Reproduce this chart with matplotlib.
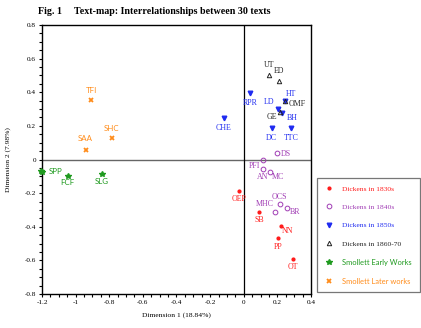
import numpy as np
import matplotlib
matplotlib.use("Agg")
import matplotlib.pyplot as plt
from matplotlib.ticker import MultipleLocator, FuncFormatter

d1830_names = ['OEP', 'SB', 'NN', 'PP', 'OT']
d1830_x = [-0.030, 0.090, 0.219, 0.203, 0.293]
d1830_y = [-0.188, -0.311, -0.396, -0.465, -0.590]

d1840_names = ['DS', 'PFI', 'AN', 'MC', 'OCS', 'MHC', 'BR']
d1840_x = [0.195, 0.112, 0.112, 0.157, 0.213, 0.183, 0.257]
d1840_y = [0.037, -0.005, -0.057, -0.076, -0.265, -0.312, -0.290]

d1850_names = ['RPR', 'CHE', 'LD', 'HT', 'BH', 'DC', 'TTC']
d1850_x = [0.038, -0.118, 0.201, 0.247, 0.225, 0.167, 0.281]
d1850_y = [0.394, 0.247, 0.299, 0.350, 0.275, 0.189, 0.189]

d1860_names = ['UT', 'ED', 'OMF', 'GE']
d1860_x = [0.149, 0.211, 0.247, 0.215]
d1860_y = [0.503, 0.469, 0.350, 0.285]

se_names = ['SPP', 'SRR', 'FCF', 'SLG']
se_x = [-1.198, -1.206, -1.047, -0.846]
se_y = [-0.076, -0.070, -0.098, -0.086]

sl_names = ['TFI', 'SHC', 'SAA']
sl_x = [-0.907, -0.784, -0.941]
sl_y = [0.352, 0.126, 0.057]

# label offsets in pixels (dx, dy) - placement only
offsets = {
    'OEP': (0, -8), 'SB': (0, -8), 'NN': (7, -5), 'PP': (0, -9), 'OT': (0, -8),
    'DS': (9, -1), 'PFI': (-8, -6), 'AN': (0, -8), 'MC': (8, -5),
    'OCS': (0, 7), 'MHC': (-10, 8), 'BR': (8, -4),
    'RPR': (0, -10), 'CHE': (0, -10), 'LD': (-8, 7), 'HT': (6, 7),
    'BH': (11, -5), 'DC': (0, -10), 'TTC': (0, -10),
    'UT': (0, 10), 'ED': (0, 10), 'OMF': (12, -3), 'GE': (-8, -5),
    'SPP': (13, 1), 'SRR': (8, -10), 'FCF': (0, -7), 'SLG': (0, -8),
    'TFI': (0, 10), 'SHC': (0, 10), 'SAA': (0, 11),
}

SERIF = 'Liberation Serif'
SANS = 'Lato'

groups = [
    (d1830_names, d1830_x, d1830_y, 'Dickens in 1830s', '#ff1a1a',
     dict(marker='o', markersize=2.0, markerfacecolor='#ff1a1a', markeredgecolor='#ff1a1a'), SERIF),
    (d1840_names, d1840_x, d1840_y, 'Dickens in 1840s', '#a03cb4',
     dict(marker='o', markersize=3.4, markerfacecolor='none', markeredgecolor='#a03cb4', markeredgewidth=0.7), SERIF),
    (d1850_names, d1850_x, d1850_y, 'Dickens in 1850s', '#1f2bf0',
     dict(marker='v', markersize=3.3, markerfacecolor='#1f2bf0', markeredgecolor='#1f2bf0'), SERIF),
    (d1860_names, d1860_x, d1860_y, 'Dickens in 1860-70', '#222222',
     dict(marker='^', markersize=3.2, markerfacecolor='none', markeredgecolor='#222222', markeredgewidth=0.7), SERIF),
    (se_names, se_x, se_y, 'Smollett Early Works', '#1f9a1f',
     dict(marker='*', markersize=4.0, markerfacecolor='#1f9a1f', markeredgecolor='#1f9a1f'), SANS),
    (sl_names, sl_x, sl_y, 'Smollett Later works', '#ff8c1a',
     dict(marker='x', markersize=2.8, markeredgecolor='#ff8c1a', markeredgewidth=1.3), SANS),
]

fig = plt.figure(figsize=(4.21, 3.28), dpi=100)
ax = fig.add_axes([42 / 421, 1 - 294 / 328, 269 / 421, 269 / 328])

ax.axhline(0, color='#666666', lw=1.0, zorder=1)
ax.axvline(0, color='black', lw=0.9, zorder=1)

handles = []
for names, xs, ys, lab, col, mk, fam in groups:
    h, = ax.plot(xs, ys, linestyle='none', label=lab, clip_on=False, zorder=3, **mk)
    handles.append(h)
    for n, x, y in zip(names, xs, ys):
        dx, dy = offsets[n]
        ax.annotate(n, (x, y), xytext=(dx, dy), textcoords='offset pixels',
                    ha='center', va='center', fontsize=5.7, color=col, family=fam)

ax.set_xlim(-1.2, 0.4)
ax.set_ylim(-0.8, 0.8)
ax.xaxis.set_major_locator(MultipleLocator(0.2))
ax.yaxis.set_major_locator(MultipleLocator(0.2))
ax.xaxis.set_minor_locator(MultipleLocator(0.05))
ax.yaxis.set_minor_locator(MultipleLocator(0.05))

def fmt(v, pos):
    v = round(v, 2)
    if abs(v) < 1e-9:
        return '0'
    return ('%g' % v)

ax.xaxis.set_major_formatter(FuncFormatter(fmt))
ax.yaxis.set_major_formatter(FuncFormatter(fmt))
ax.tick_params(which='both', direction='out', length=2.3, width=0.8, pad=2,
               labelsize=5.2, top=False, right=False)
for t in ax.get_xticklabels() + ax.get_yticklabels():
    t.set_family(SERIF)
for s in ax.spines.values():
    s.set_linewidth(1.0)

ax.set_xlabel('Dimension 1 (18.84%)', fontsize=5.4, family=SERIF, labelpad=5)
ax.set_ylabel('Dimension 2 (7.98%)', fontsize=5.4, family=SERIF, labelpad=10)

fig.text(38 / 421, 1 - 11 / 328, 'Fig. 1', fontsize=7.2, fontweight='bold',
         family=SERIF, va='center', ha='left')
fig.text(74 / 421, 1 - 11 / 328, 'Text-map: Interrelationships between 30 texts',
         fontsize=7.2, fontweight='bold', family=SERIF, va='center', ha='left')

leg = fig.legend(handles=handles, loc='upper left', bbox_to_anchor=(317 / 421, 1 - 178 / 328),
                 fontsize=5.4, frameon=True, fancybox=False, edgecolor='#555555',
                 labelspacing=1.6, handletextpad=1.2, borderpad=1.0, borderaxespad=0,
                 handlelength=1.2, labelcolor=[g[4] for g in groups])
leg.get_frame().set_linewidth(0.9)
for t, g in zip(leg.get_texts(), groups):
    t.set_family(g[6])

fig.savefig('out.png', dpi=100)
